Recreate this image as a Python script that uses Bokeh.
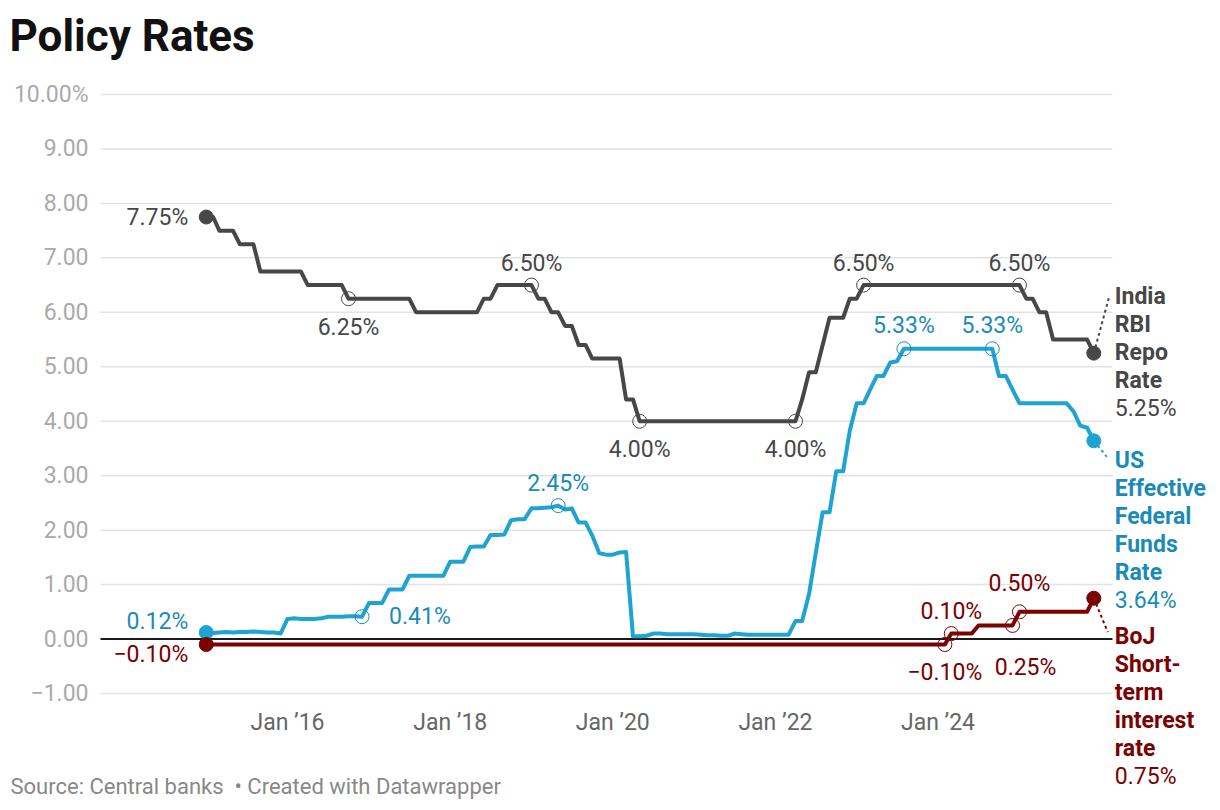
import pandas as pd
from bokeh.plotting import figure
from bokeh.models import ColumnDataSource, FixedTicker, Range1d
from bokeh.core.properties import value
from bokeh.embed import file_html
from bokeh.resources import INLINE

# ---------------- data ----------------
months = pd.date_range("2015-01-01", "2025-12-01", freq="MS")

india_repo = (
    [7.75, 7.75, 7.50, 7.50, 7.50, 7.25, 7.25, 7.25, 6.75, 6.75, 6.75, 6.75]    # 2015
    + [6.75, 6.75, 6.75, 6.50, 6.50, 6.50, 6.50, 6.50, 6.50, 6.25, 6.25, 6.25]  # 2016
    + [6.25, 6.25, 6.25, 6.25, 6.25, 6.25, 6.25, 6.00, 6.00, 6.00, 6.00, 6.00]  # 2017
    + [6.00, 6.00, 6.00, 6.00, 6.00, 6.25, 6.25, 6.50, 6.50, 6.50, 6.50, 6.50]  # 2018
    + [6.50, 6.25, 6.25, 6.00, 6.00, 5.75, 5.75, 5.40, 5.40, 5.15, 5.15, 5.15]  # 2019
    + [5.15, 5.15, 4.40, 4.40, 4.00, 4.00, 4.00, 4.00, 4.00, 4.00, 4.00, 4.00]  # 2020
    + [4.00, 4.00, 4.00, 4.00, 4.00, 4.00, 4.00, 4.00, 4.00, 4.00, 4.00, 4.00]  # 2021
    + [4.00, 4.00, 4.00, 4.00, 4.40, 4.90, 4.90, 5.40, 5.90, 5.90, 5.90, 6.25]  # 2022
    + [6.25, 6.50, 6.50, 6.50, 6.50, 6.50, 6.50, 6.50, 6.50, 6.50, 6.50, 6.50]  # 2023
    + [6.50, 6.50, 6.50, 6.50, 6.50, 6.50, 6.50, 6.50, 6.50, 6.50, 6.50, 6.50]  # 2024
    + [6.50, 6.25, 6.25, 6.00, 6.00, 5.50, 5.50, 5.50, 5.50, 5.50, 5.50, 5.25]  # 2025
)

us_effr = (
    [0.12, 0.11, 0.12, 0.13, 0.12, 0.13, 0.13, 0.14, 0.13, 0.12, 0.12, 0.10]    # 2015
    + [0.37, 0.38, 0.37, 0.37, 0.37, 0.38, 0.41, 0.41, 0.41, 0.42, 0.42, 0.41]  # 2016
    + [0.66, 0.66, 0.66, 0.91, 0.91, 0.91, 1.16, 1.16, 1.16, 1.16, 1.16, 1.16]  # 2017
    + [1.42, 1.42, 1.42, 1.69, 1.70, 1.70, 1.91, 1.91, 1.92, 2.18, 2.20, 2.20]  # 2018
    + [2.40, 2.40, 2.41, 2.42, 2.45, 2.38, 2.40, 2.14, 2.14, 1.90, 1.58, 1.55]  # 2019
    + [1.55, 1.59, 1.60, 0.05, 0.05, 0.06, 0.10, 0.10, 0.09, 0.09, 0.09, 0.09]  # 2020
    + [0.09, 0.08, 0.07, 0.07, 0.06, 0.06, 0.10, 0.09, 0.08, 0.08, 0.08, 0.08]  # 2021
    + [0.08, 0.08, 0.08, 0.33, 0.33, 0.83, 1.58, 2.33, 2.33, 3.08, 3.08, 3.83]  # 2022
    + [4.33, 4.33, 4.57, 4.83, 4.83, 5.08, 5.10, 5.33, 5.33, 5.33, 5.33, 5.33]  # 2023
    + [5.33, 5.33, 5.33, 5.33, 5.33, 5.33, 5.33, 5.33, 5.33, 4.83, 4.83, 4.58]  # 2024
    + [4.33, 4.33, 4.33, 4.33, 4.33, 4.33, 4.33, 4.33, 4.18, 3.92, 3.88, 3.64]  # 2025
)

boj_rate = (
    [-0.10] * 12 * 9                                                              # 2015-2023
    + [-0.10, -0.10, 0.10, 0.10, 0.10, 0.10, 0.25, 0.25, 0.25, 0.25, 0.25, 0.25]  # 2024
    + [0.50, 0.50, 0.50, 0.50, 0.50, 0.50, 0.50, 0.50, 0.50, 0.50, 0.50, 0.75]    # 2025
)

series_names = [["India", "RBI", "Repo", "Rate"],
                ["US", "Effective", "Federal", "Funds", "Rate"],
                ["BoJ", "Short-", "term", "interest", "rate"]]

# highlighted points (month index into the series)
india_notes = [0, 21, 48, 64, 87, 97, 120]
us_notes = [0, 23, 52, 103, 116]
boj_notes = [0, 109, 110, 119, 120]

y_tick_values = [-1, 0, 1, 2, 3, 4, 5, 6, 7, 8, 9, 10]
y_tick_labels = ["\u22121.00", "0.00", "1.00", "2.00", "3.00", "4.00",
                 "5.00", "6.00", "7.00", "8.00", "9.00", "10.00%"]
x_tick_dates = ["2016-01-01", "2018-01-01", "2020-01-01", "2022-01-01", "2024-01-01"]
x_tick_labels = ["Jan \u201916", "Jan \u201918", "Jan \u201920", "Jan \u201922", "Jan \u201924"]

title_text = "Policy Rates"
source_text = "Source: Central banks\u00a0\u00a0\u2022 Created with Datawrapper"

# ---------------- styles / layout ----------------
FONT = "Roboto"
INDIA_LINE, INDIA_TEXT = "#474747", "#474747"
US_LINE, US_TEXT = "#1fa3d2", "#1a8bb8"
BOJ_LINE, BOJ_TEXT = "#7b0000", "#7b0000"

W, H = 1220, 810
# plot area (page pixels) and the data values at its edges
AREA_L, AREA_R, AREA_T, AREA_B = 100, 1112, 88, 700
X_AREA_L, X_AREA_R = pd.Timestamp("2013-09-13"), pd.Timestamp("2026-02-23")
Y_AREA_B, Y_AREA_T = -1.1286, 10.11
PX_PER_DAY = (AREA_R - AREA_L) / (X_AREA_R - X_AREA_L).days
PX_PER_UNIT = (AREA_B - AREA_T) / (Y_AREA_T - Y_AREA_B)
# the frame covers the whole canvas
X0 = X_AREA_L - pd.Timedelta(days=AREA_L / PX_PER_DAY)
X1 = X0 + pd.Timedelta(days=W / PX_PER_DAY)
Y1 = Y_AREA_T + AREA_T / PX_PER_UNIT
Y0 = Y1 - H / PX_PER_UNIT

# label placement per note: (align, dx px, dy px downward)
india_note_style = [("right", -18, 0), ("center", 0, 29), ("center", 0, -22), ("center", 0, 28),
                    ("center", 0, 28), ("center", 0, -22), ("center", 0, -22)]
us_note_style = [("right", -18, -11), ("left", 27, 0), ("center", 0, -22),
                 ("center", 0, -23), ("center", 0, -23)]
boj_note_style = [("right", -18, 10), ("center", 0, 28), ("center", 0, -22),
                  ("center", 13, 42), ("center", 0, -28)]
# end-label block: first line offset below the end point (px), connector end (dx, dy down)
end_block = [(-57, (15, -55)), (20, (13, 16)), (38, (14, 34))]

p = figure(width=W, height=H, x_axis_type="datetime", output_backend="svg",
           toolbar_location=None, tools="", title=None,
           x_range=Range1d(X0, X1), y_range=Range1d(Y0, Y1),
           min_border_left=0, min_border_right=0, min_border_top=0, min_border_bottom=0)
p.outline_line_color = None
p.background_fill_color = "white"
p.border_fill_color = "white"
p.xgrid.visible = False
p.ygrid.visible = False

ya = p.yaxis[0]
ya.fixed_location = X_AREA_L.value / 10**6
ya.ticker = FixedTicker(ticks=y_tick_values)
ya.major_label_overrides = dict(zip(y_tick_values, y_tick_labels))
ya.axis_line_color = None
ya.major_tick_line_color = None
ya.minor_tick_line_color = None
ya.major_tick_out = 0
ya.major_tick_in = 0
ya.major_label_standoff = 12
ya.major_label_text_font = FONT
ya.major_label_text_font_size = "23px"
ya.major_label_text_color = "#aaaaaa"

x_tick_ms = [int(pd.Timestamp(d).value // 10**6) for d in x_tick_dates]
xa = p.xaxis[0]
xa.fixed_location = Y_AREA_B
xa.ticker = FixedTicker(ticks=x_tick_ms)
xa.major_label_overrides = dict(zip(x_tick_ms, x_tick_labels))
xa.axis_line_color = None
xa.major_tick_line_color = None
xa.minor_tick_line_color = None
xa.major_tick_out = 0
xa.major_tick_in = 0
xa.major_label_standoff = 8
xa.major_label_text_font = FONT
xa.major_label_text_font_size = "23px"
xa.major_label_text_color = "#666666"

# horizontal grid lines and the zero line
grid_y = [t for t in y_tick_values if t != 0]
p.segment(x0=[X_AREA_L] * len(grid_y), x1=[X_AREA_R] * len(grid_y), y0=grid_y, y1=grid_y,
          line_color="#e3e3e3", line_width=1.5)
p.segment(x0=[X_AREA_L], x1=[X_AREA_R], y0=[0], y1=[0], line_color="#1a1a1a", line_width=2)


def fmt(v):
    return f"{v:.2f}%".replace("-", "\u2212")


series = [
    (india_repo, india_notes, india_note_style, INDIA_LINE, INDIA_TEXT),
    (us_effr, us_notes, us_note_style, US_LINE, US_TEXT),
    (boj_rate, boj_notes, boj_note_style, BOJ_LINE, BOJ_TEXT),
]

for k, (vals, notes, styles, lc, tc) in enumerate(series):
    src = ColumnDataSource(dict(date=months, rate=vals))
    p.line("date", "rate", source=src, line_color=lc, line_width=4,
           line_join="round", line_cap="round")

    # dotted connector from the last point to its label
    first_dy, (cdx, cdy) = end_block[k]
    x_end, y_end = months[-1], vals[-1]
    p.segment(x0=[x_end], y0=[y_end],
              x1=[x_end + pd.Timedelta(days=cdx / PX_PER_DAY)], y1=[y_end - cdy / PX_PER_UNIT],
              line_color=lc, line_width=2, line_dash="3 3")

    # start and end dots
    p.scatter(x=[months[0], months[-1]], y=[vals[0], vals[-1]], size=14,
              fill_color=lc, line_color=lc)

    # hollow rings on highlighted points
    ring_idx = [i for i in notes if i != 0]
    p.scatter(x=[months[i] for i in ring_idx], y=[vals[i] for i in ring_idx], size=14,
              fill_alpha=0, line_color=tc, line_width=1)

    for i, (align, dx, dy) in zip(notes, styles):
        p.text(x=[months[i]], y=[vals[i]], text=[fmt(vals[i])], x_offset=dx, y_offset=dy,
               text_align=align, text_baseline="middle", text_font=value(FONT),
               text_font_size="23px", text_color=tc)

    # end label block (series name in bold, last value below)
    names = series_names[k]
    for j, line_txt in enumerate(names + [fmt(y_end)]):
        p.text(x=[x_end], y=[y_end], text=[line_txt], x_offset=21, y_offset=first_dy + 28 * j,
               text_align="left", text_baseline="middle", text_font=value(FONT),
               text_font_size="23px",
               text_font_style="bold" if j < len(names) else "normal",
               text_color=tc)

# title (top-left corner of the canvas) and source line (bottom-left)
p.text(x=[X0], y=[Y1], text=[title_text], x_offset=9, y_offset=35,
       text_align="left", text_baseline="alphabetic", text_font=value(FONT),
       text_font_size="44px", text_font_style="bold", text_color="#111111")
p.text(x=[X0], y=[Y0], text=[source_text], x_offset=10, y_offset=-24,
       text_align="left", text_baseline="alphabetic", text_font=value(FONT),
       text_font_size="22px", text_color="#888888")

open("out.html", "w").write(file_html(p, INLINE))
